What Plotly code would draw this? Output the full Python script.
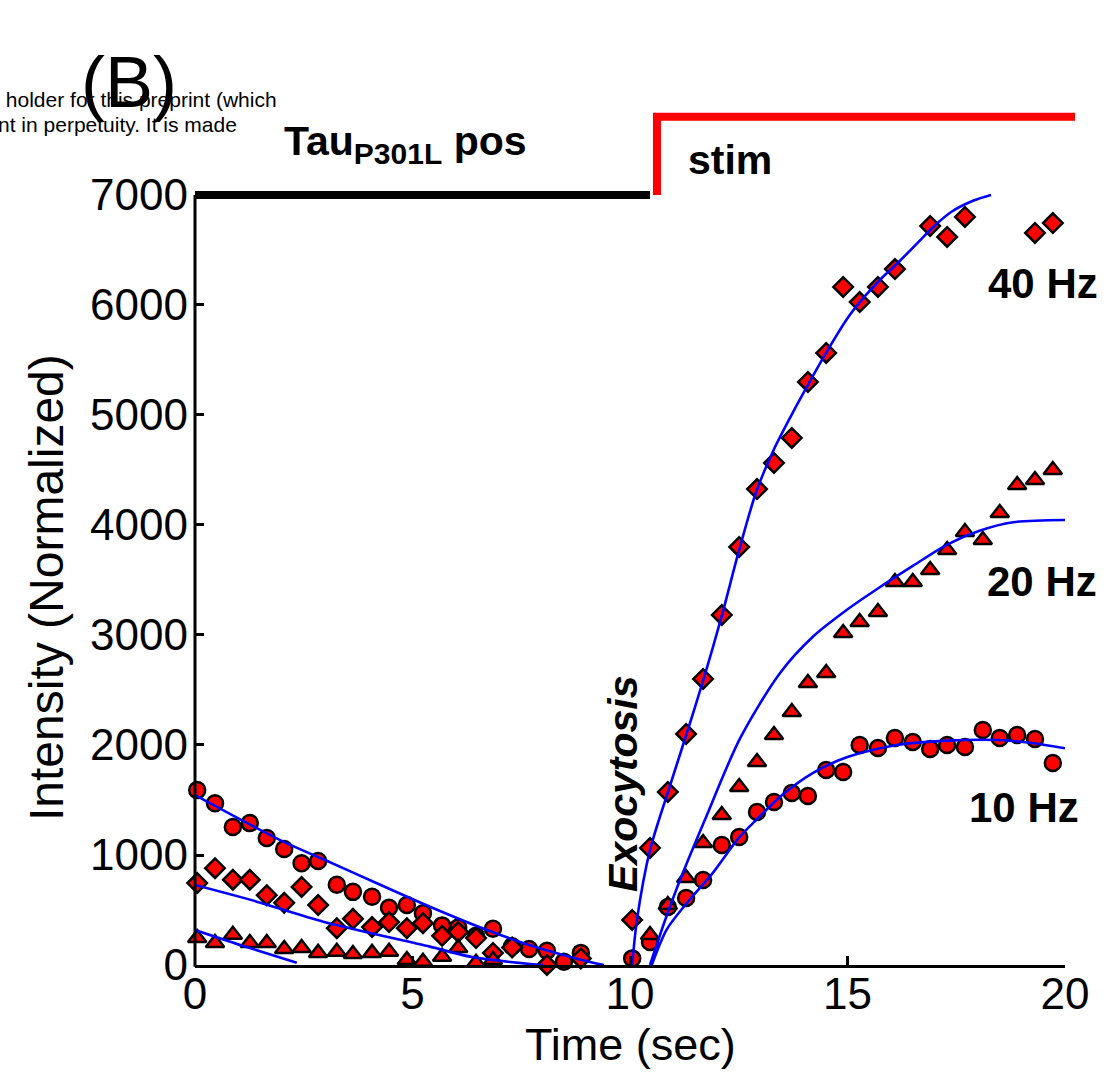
import plotly.graph_objects as go

# ---------------- data ----------------
time_s = [0.05, 0.46, 0.87, 1.26, 1.65, 2.05, 2.45, 2.83, 3.26, 3.63,
          4.07, 4.46, 4.87, 5.24, 5.68, 6.05, 6.46, 6.85, 7.29, 7.68,
          8.09, 8.48, 8.87, 9.26, 9.66, 10.05, 10.46, 10.87, 11.29, 11.68,
          12.11, 12.51, 12.92, 13.31, 13.72, 14.09, 14.51, 14.90, 15.28, 15.70,
          16.09, 16.50, 16.90, 17.29, 17.70, 18.11, 18.50, 18.90, 19.31, 19.72]

hz10_circles = [1590, 1470, 1255, 1290, 1155, 1055, 925, 945, 730, 665,
                620, 520, 545, 470, 360, 340, 265, 330, 170, 145,
                130, 30, 110, -10, None, 60, 210, 527, 609, 773,
                1091, 1164, 1391, 1482, 1564, 1536, 1773, 1755, 2000, 1973,
                2064, 2027, 1964, 2000, 1982, 2136, 2064, 2091, 2055, 1836]

hz40_diamonds = [745, 880, 775, 775, 635, 565, 710, 545, 335, 420,
                 345, 390, 335, 380, 265, 300, 245, 110, 160, -20,
                 0, -20, 60, -20, None, 410, 1064, 1573, 2100, 2600,
                 3182, 3800, 4327, 4564, 4791, 5300, 5564, 6164, 6027, 6164,
                 6327, None, 6718, 6618, 6800, None, None, None, 6655, 6745]

hz20_triangles = [245, 200, 275, 200, 200, 145, 155, 110, 120, 100,
                  110, 120, 45, 30, 75, 155, 20, 45, -30, -40,
                  -20, -40, -30, -40, -30, None, 273, 545, 791, 1109,
                  1364, 1618, 1845, 2091, 2300, 2564, 2655, 3018, 3118, 3209,
                  3482, 3482, 3591, 3773, 3936, 3864, 4109, 4364, 4409, 4500]

# fitted curves
fit40_t = [10.05, 10.16, 10.46, 10.87, 11.3, 11.7, 12.1, 12.5, 12.9, 13.3,
           13.7, 14.1, 14.5, 15.0, 15.4, 15.8, 16.2, 16.6, 17.0, 17.4, 17.9, 18.3]
fit40_v = [0, 410, 1045, 1570, 2100, 2610, 3160, 3760, 4300, 4680,
           4990, 5280, 5560, 5880, 6080, 6250, 6400, 6560, 6720, 6850, 6950, 7000]

fit20_t = [10.46, 10.8, 11.15, 11.72, 12.53, 13.45, 14.21, 14.98, 15.75,
           16.51, 17.28, 18.05, 18.81, 20.0]
fit20_v = [0, 400, 773, 1318, 2060, 2655, 2986, 3227, 3436,
           3630, 3820, 3950, 4025, 4045]

fit10_t = [10.5, 10.84, 11.3, 11.9, 12.5, 12.97, 13.45, 14.2, 15.0, 16.13,
           17.3, 18.45, 19.2, 20.0]
fit10_v = [0, 320, 560, 835, 1155, 1345, 1530, 1745, 1890, 2000,
           2040, 2045, 2020, 1970]

decay_c_t = [0, 2.03, 2.95, 4.18, 5.4, 6.7, 7.47, 8.2, 9.15, 9.4]
decay_c_v = [1545, 1121, 961, 743, 530, 320, 210, 120, 20, 0]

decay_d_t = [0, 1.42, 2.95, 5.4, 6.32, 7.7, 8.0]
decay_d_v = [727, 576, 394, 167, 76, 9, 0]

decay_t_t = [0, 1.11, 2.34]
decay_t_v = [318, 173, 21]

x_ticks = [0, 5, 10, 15, 20]
y_ticks = [0, 1000, 2000, 3000, 4000, 5000, 6000, 7000]
x_range = [0, 20]
y_range = [0, 7727]

baseline_level = 7000
baseline_end = 10.46
stim_on = 10.62
stim_level = 7710
stim_end = 20.23

freq_labels = ["40 Hz", "20 Hz", "10 Hz"]

# ---------------- figure ----------------
W, H = 1106, 1072
L, R, T, B = 195, 41, 115, 107
PW, PH = W - L - R, H - T - B


def xp(t):
    return (t - x_range[0]) / (x_range[1] - x_range[0])


def yp(v):
    return (v - y_range[0]) / (y_range[1] - y_range[0])


def px2x(px):
    return (px - L) / PW


def py2y(py):
    return (H - B - py) / PH


RED = "#ff0000"
BLUE = "#0000ff"
ARIAL = "Liberation Sans, Arial, sans-serif"

fig = go.Figure()

marker_line = dict(color="black", width=2.5)
fig.add_trace(go.Scatter(x=time_s, y=hz10_circles, mode="markers", cliponaxis=False,
                         marker=dict(symbol="circle", size=16, color=RED, line=marker_line)))
fig.add_trace(go.Scatter(x=time_s, y=hz40_diamonds, mode="markers", cliponaxis=False,
                         marker=dict(symbol="diamond", size=15, color=RED, line=marker_line)))
fig.add_trace(go.Scatter(x=time_s, y=hz20_triangles, mode="markers", cliponaxis=False,
                         marker=dict(symbol="triangle-up", size=16, color=RED, line=marker_line)))

for tx, vy in [(fit40_t, fit40_v), (fit20_t, fit20_v), (fit10_t, fit10_v),
               (decay_c_t, decay_c_v), (decay_d_t, decay_d_v), (decay_t_t, decay_t_v)]:
    fig.add_trace(go.Scatter(x=tx, y=vy, mode="lines",
                             line=dict(color=BLUE, width=2.6, shape="spline", smoothing=0.8)))

shapes = [
    # left axis line (only up to 7000)
    dict(type="line", xref="paper", yref="paper", x0=0, x1=0, y0=-0.002, y1=yp(baseline_level),
         line=dict(color="black", width=3)),
    # pre-stim black bar
    dict(type="line", xref="paper", yref="paper", x0=0, x1=xp(baseline_end),
         y0=yp(baseline_level), y1=yp(baseline_level), line=dict(color="black", width=8)),
    # stim red step
    dict(type="path", xref="paper", yref="paper",
         path=f"M {xp(stim_on)},{yp(baseline_level)} L {xp(stim_on)},{yp(stim_level)} L {xp(stim_end)},{yp(stim_level)}",
         line=dict(color=RED, width=8)),
]

annotations = [
    dict(text=" holder for this preprint (which", x=px2x(279), y=py2y(99), xanchor="right",
         font=dict(family=ARIAL, size=21, color="black")),
    dict(text="nt in perpetuity. It is made", x=px2x(239), y=py2y(125), xanchor="right",
         font=dict(family=ARIAL, size=21, color="black")),
    dict(text="(B)", x=px2x(129), y=py2y(82), font=dict(family=ARIAL, size=72, color="black")),
    dict(text="<b>Tau<sub><span style='font-size:30px'>P301L</span></sub> pos</b>",
         x=px2x(282), y=py2y(144), xanchor="left",
         font=dict(family=ARIAL, size=41, color="black")),
    dict(text="<b>stim</b>", x=px2x(686), y=py2y(160), xanchor="left",
         font=dict(family=ARIAL, size=41, color="black")),
    dict(text=f"<b>{freq_labels[0]}</b>", x=px2x(1100), y=py2y(283), xanchor="right",
         font=dict(family=ARIAL, size=42, color="black")),
    dict(text=f"<b>{freq_labels[1]}</b>", x=px2x(1099), y=py2y(581), xanchor="right",
         font=dict(family=ARIAL, size=42, color="black")),
    dict(text=f"<b>{freq_labels[2]}</b>", x=px2x(1081), y=py2y(807), xanchor="right",
         font=dict(family=ARIAL, size=42, color="black")),
    dict(text="<b><i>Exocytosis</i></b>", x=px2x(623), y=py2y(784), textangle=-90,
         font=dict(family=ARIAL, size=41, color="black")),
    dict(text="Intensity (Normalized)", x=px2x(46), y=py2y(588), textangle=-90,
         font=dict(family=ARIAL, size=48, color="black")),
    dict(text="Time (sec)", x=px2x(630), y=py2y(1044),
         font=dict(family=ARIAL, size=45, color="black")),
]
for a in annotations:
    a.setdefault("xref", "paper")
    a.setdefault("yref", "paper")
    a.setdefault("showarrow", False)
    a.setdefault("xanchor", "center")
    a.setdefault("yanchor", "middle")

fig.update_layout(
    width=W, height=H,
    margin=dict(l=L, r=R, t=T, b=B, pad=0),
    paper_bgcolor="white", plot_bgcolor="white",
    showlegend=False,
    shapes=shapes,
    annotations=annotations,
    font=dict(family=ARIAL, color="black"),
)
fig.update_xaxes(range=x_range, tickvals=x_ticks, ticktext=[str(v) for v in x_ticks],
                 showgrid=False, zeroline=False, showline=True, linecolor="black", linewidth=3,
                 ticks="inside", ticklen=9, tickwidth=2.5, tickcolor="black",
                 tickfont=dict(family=ARIAL, size=44, color="black"), ticklabelstandoff=-12)
fig.update_yaxes(range=y_range, tickvals=y_ticks, ticktext=[str(v) for v in y_ticks],
                 showgrid=False, zeroline=False, showline=False,
                 ticks="inside", ticklen=9, tickwidth=2.5, tickcolor="black",
                 tickfont=dict(family=ARIAL, size=44, color="black"), ticklabelstandoff=6)

fig.write_html("out.html")
